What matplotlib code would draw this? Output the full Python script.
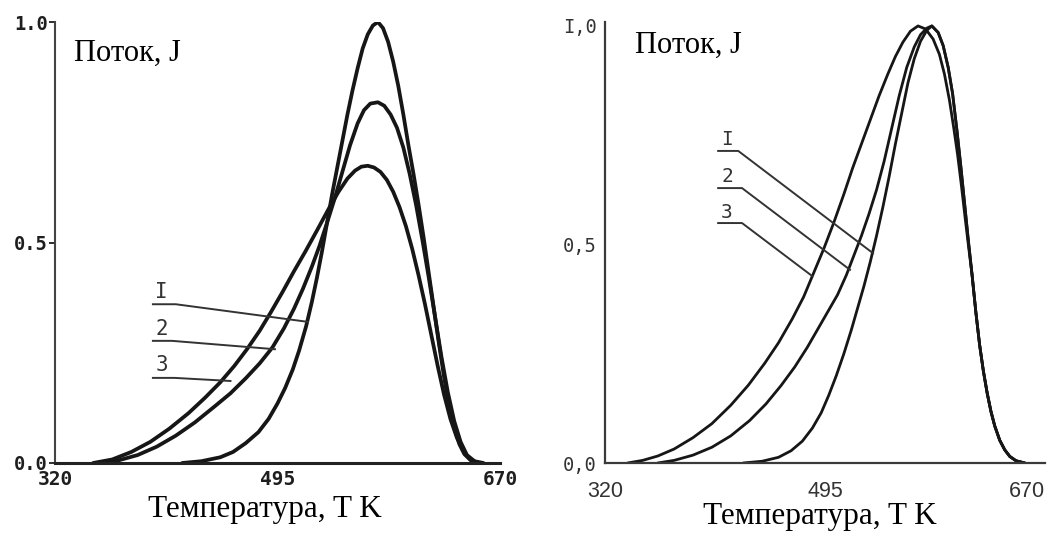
import matplotlib
matplotlib.use("Agg")
import matplotlib.pyplot as plt

# ---------------- data ----------------
x_ticks = [320, 495, 670]
left_ytick_labels = ["0.0", "0.5", "1.0"]
right_ytick_labels = ["0,0", "0,5", "I,0"]
y_ticks = [0.0, 0.5, 1.0]
x_label = "Температура, T K"
y_label = "Поток, J"
curve_names = ["I", "2", "3"]

# left panel
L1_T = [420, 435, 450, 460, 470, 480, 488, 495, 501, 507, 512, 517.5, 522, 526, 530, 534, 538, 542,
        546, 550, 554, 558, 562, 566, 570, 574, 578, 582, 586, 590, 594, 598, 602, 606, 610, 614,
        618, 622, 626, 630, 634, 638, 642, 647, 654]
L1_J = [0.0, 0.004, 0.013, 0.025, 0.045, 0.07, 0.1, 0.135, 0.17, 0.212, 0.255, 0.31, 0.365, 0.42,
        0.48, 0.545, 0.61, 0.67, 0.73, 0.79, 0.845, 0.895, 0.94, 0.972, 0.992, 1.0, 0.986, 0.955,
        0.91, 0.855, 0.79, 0.72, 0.655, 0.585, 0.51, 0.43, 0.35, 0.27, 0.195, 0.13, 0.08, 0.043,
        0.02, 0.006, 0.0]
L2_T = [355, 370, 385, 400, 415, 430, 445, 458, 470, 481, 491, 500, 508, 515, 522, 528, 534, 540,
        546, 552, 558, 563, 568, 574, 579, 584, 589, 594, 599, 604, 609, 614, 619, 624, 629, 634,
        639, 644, 650, 657]
L2_J = [0.0, 0.006, 0.018, 0.037, 0.062, 0.092, 0.127, 0.158, 0.192, 0.226, 0.262, 0.305, 0.35,
        0.395, 0.445, 0.492, 0.545, 0.6, 0.66, 0.72, 0.77, 0.8, 0.815, 0.818, 0.81, 0.79, 0.76,
        0.715, 0.655, 0.585, 0.505, 0.42, 0.33, 0.24, 0.16, 0.095, 0.048, 0.018, 0.004, 0.0]
L3_T = [350, 365, 380, 395, 410, 425, 438, 450, 461, 471, 481, 490, 499, 508, 517, 526, 535, 543,
        550, 556, 561, 566, 571, 576, 581, 586, 591, 596, 601, 606, 611, 616, 621, 626, 631, 636,
        641, 646, 652]
L3_J = [0.0, 0.008, 0.025, 0.048, 0.078, 0.113, 0.148, 0.183, 0.22, 0.258, 0.3, 0.343, 0.388,
        0.435, 0.48, 0.527, 0.575, 0.615, 0.645, 0.663, 0.672, 0.674, 0.67, 0.66, 0.642, 0.615,
        0.58, 0.537, 0.485, 0.425, 0.36, 0.29, 0.22, 0.155, 0.1, 0.058, 0.028, 0.01, 0.0]

# right panel
R1_T = [430, 445, 458, 468, 477, 485, 492, 498, 504, 510, 516, 521, 526, 531, 536, 541, 546, 551,
        556, 561, 566, 571, 576, 580, 585, 589, 593, 596.5, 600, 603, 606, 609, 612, 615, 618, 621,
        624, 627, 630, 634, 638, 642, 647, 654]
R1_J = [0.0, 0.004, 0.013, 0.028, 0.05, 0.08, 0.115, 0.155, 0.2, 0.25, 0.305, 0.355, 0.405, 0.46,
        0.52, 0.585, 0.655, 0.73, 0.8, 0.87, 0.925, 0.965, 0.99, 1.0, 0.985, 0.955, 0.905, 0.845,
        0.76, 0.68, 0.595, 0.51, 0.43, 0.345, 0.27, 0.21, 0.16, 0.118, 0.085, 0.052, 0.03, 0.015,
        0.005, 0.0]
R2_T = [362, 375, 390, 405, 420, 435, 448, 460, 471, 481, 490, 498, 505, 512, 518, 524, 530, 536,
        542, 548, 554, 560, 566, 571, 576, 580, 585, 589, 593, 596.5, 600, 603, 606, 609, 612, 615,
        618, 621, 624, 627, 630, 634, 638, 642, 647, 654]
R2_J = [0.0, 0.006, 0.018, 0.036, 0.062, 0.097, 0.135, 0.177, 0.22, 0.265, 0.31, 0.35, 0.385, 0.43,
        0.475, 0.52, 0.57, 0.625, 0.69, 0.765, 0.84, 0.905, 0.952, 0.98, 0.995, 1.0, 0.985, 0.955,
        0.905, 0.845, 0.76, 0.68, 0.595, 0.51, 0.43, 0.345, 0.27, 0.21, 0.16, 0.118, 0.085, 0.052,
        0.03, 0.015, 0.005, 0.0]
R3_T = [338, 350, 362, 375, 390, 405, 420, 434, 447, 458, 469, 478, 486, 494, 502, 510, 517, 524,
        531, 538, 545, 551, 557, 563, 569, 575, 581, 586, 590, 594, 597.5, 600.5, 603.5, 606.5, 609,
        612, 615, 618, 621, 624, 627, 630, 634, 638, 642, 647, 654]
R3_J = [0.0, 0.006, 0.016, 0.032, 0.058, 0.09, 0.132, 0.178, 0.228, 0.275, 0.33, 0.38, 0.435, 0.49,
        0.55, 0.615, 0.675, 0.73, 0.785, 0.84, 0.89, 0.93, 0.963, 0.988, 1.0, 0.993, 0.97, 0.935,
        0.89, 0.83, 0.765, 0.705, 0.635, 0.56, 0.5, 0.43, 0.345, 0.27, 0.21, 0.16, 0.118, 0.085,
        0.052, 0.03, 0.015, 0.005, 0.0]

# ---------------- figure ----------------
W, H = 1058, 539
fig = plt.figure(figsize=(W / 100, H / 100), dpi=100)
fig.patch.set_facecolor("white")

ink = "#161616"
serif = ["Liberation Serif", "DejaVu Serif"]

def px_axes(x0, x1, ytop, ybot):
    return fig.add_axes([x0 / W, 1 - ybot / H, (x1 - x0) / W, (ybot - ytop) / H])

axL = px_axes(55, 500, 22, 463)
axR = px_axes(605, 1045, 22, 463)

for ax in (axL, axR):
    ax.set_xlim(320, 670)
    for s in ("top", "right"):
        ax.spines[s].set_visible(False)
    ax.set_xticks(x_ticks)
    ax.set_yticks(y_ticks)
    ax.patch.set_alpha(0)

axL.set_ylim(0, 1.0)
axR.set_ylim(0, 1.009)

# left panel styling
axL.spines["left"].set_linewidth(1.5)
axL.spines["left"].set_color("#444444")
axL.spines["bottom"].set_linewidth(2.2)
axL.spines["bottom"].set_color("#222222")
axL.set_yticklabels(left_ytick_labels, fontfamily="DejaVu Sans Mono", fontweight="bold", fontsize=13.5)
axL.set_xticklabels([str(v) for v in x_ticks], fontfamily="DejaVu Sans Mono", fontweight="bold",
                    fontsize=14)
axL.tick_params(axis="y", length=4, width=1.3, pad=1, colors="#1e1e1e")
axL.tick_params(axis="x", length=0, pad=5, colors="#1e1e1e")

# right panel styling
for s in ("left", "bottom"):
    axR.spines[s].set_linewidth(1.6)
    axR.spines[s].set_color("#3a3a3a")
axR.set_yticklabels(right_ytick_labels, fontfamily="DejaVu Sans Mono", fontsize=13.5)
axR.set_xticklabels([str(v) for v in x_ticks], fontfamily="Liberation Sans", fontsize=15.5)
axR.get_xticklabels()[-1].set_horizontalalignment("right")
axR.tick_params(axis="y", length=0, pad=6, colors="#333333")
axR.tick_params(axis="x", length=0, pad=13, colors="#333333")

for T, J in ((L1_T, L1_J), (L2_T, L2_J), (L3_T, L3_J)):
    axL.plot(T, J, color=ink, lw=2.7, solid_joinstyle="round", solid_capstyle="round")
for T, J in ((R1_T, R1_J), (R2_T, R2_J), (R3_T, R3_J)):
    axR.plot(T, J, color=ink, lw=2.0, solid_joinstyle="round", solid_capstyle="round")

# curve labels with leader lines
leadL = [((397, 415, 519), (0.36, 0.36, 0.32), 0.388),
         ((397, 412, 493), (0.277, 0.277, 0.258), 0.304),
         ((397, 414, 458), (0.193, 0.193, 0.186), 0.222)]
for name, (tx, jy, ty) in zip(curve_names, leadL):
    axL.plot(tx, jy, color="#333333", lw=1.4)
    axL.text(404, ty, name, fontfamily="DejaVu Sans Mono", fontsize=15, ha="center", va="center",
             color="#333333")

leadR = [((410, 426, 533.2), (0.714, 0.714, 0.48), 0.740),
         ((410, 429, 514.9), (0.629, 0.629, 0.442), 0.656),
         ((410, 429, 484.7), (0.549, 0.549, 0.428), 0.572)]
for name, (tx, jy, ty) in zip(curve_names, leadR):
    axR.plot(tx, jy, color="#333333", lw=1.4)
    axR.text(417, ty, name, fontfamily="DejaVu Sans Mono", fontsize=14, ha="center", va="center",
             color="#333333")

# axis captions (as placed in the picture)
fig.text(127 / W, 1 - 61 / H, y_label, fontfamily=serif, fontsize=22, ha="center", va="baseline")
fig.text(688 / W, 1 - 53 / H, y_label, fontfamily=serif, fontsize=22, ha="center", va="baseline")
fig.text(265 / W, 1 - 517 / H, x_label, fontfamily=serif, fontsize=22.5, ha="center", va="baseline")
fig.text(820 / W, 1 - 524 / H, x_label, fontfamily=serif, fontsize=22.5, ha="center", va="baseline")

fig.savefig("out.png", dpi=100, facecolor="white")
